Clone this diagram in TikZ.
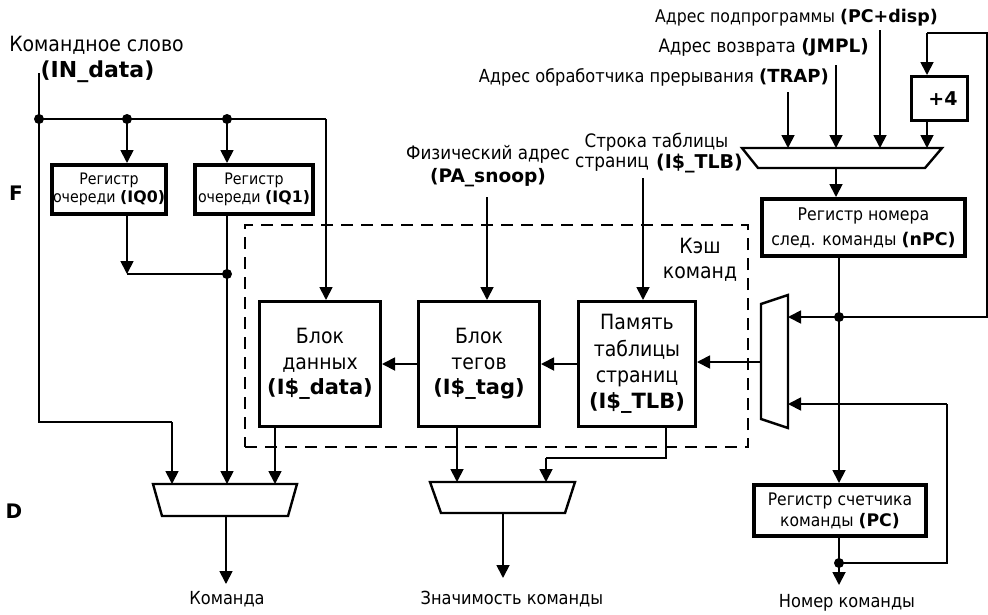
\documentclass[tikz,border=0pt]{standalone}
\usepackage{fontspec}
\setmainfont{DejaVu Sans Condensed}[BoldFont={DejaVu Sans Bold}]
\usetikzlibrary{arrows.meta,calc}

\newcommand{\fs}[2]{\fontsize{#1}{#2}\selectfont}

\begin{document}
\begin{tikzpicture}[x=1pt,y=-1pt,
  wire/.style={line width=1.8pt},
  arr/.style={wire,-{Triangle[length=13pt,width=13pt]}},
  reg/.style={draw,line width=3.6pt,inner sep=0pt,align=center},
  blk/.style={draw,line width=2.6pt,inner sep=0pt,align=center},
  muxshape/.style={draw,line width=2.4pt,fill=white,line join=miter},
  jdot/.style={circle,fill,inner sep=0pt,minimum size=10pt},
  cachebox/.style={draw,dashed,line width=2pt,dash pattern=on 12pt off 8pt,inner sep=0pt},
  lbl/.style={inner sep=0pt,align=center}]
\useasboundingbox (0,0) rectangle (988,614);

% ---------- input word and stage letters ----------
\node[lbl,font=\fs{21}{24}] (inword) at (96.5,45) {Командное слово};
\node[lbl,font=\fs{22}{24}\bfseries] (indata) at (97.5,72) {(IN\_data)};
\node[lbl,font=\fs{20}{24}\bfseries] (stF) at (16,193) {F};
\node[lbl,font=\fs{20}{24}\bfseries] (stD) at (14,511) {D};

% ---------- queue registers ----------
\node[reg,minimum width=114.4pt,minimum height=49.4pt,font=\fs{15.8}{18.5}] (iq0) at (109,189.5) {Регистр\\очереди \textbf{(IQ0)}};
\node[reg,minimum width=118.4pt,minimum height=49.4pt,font=\fs{15.8}{18.5}] (iq1) at (254,189.5) {Регистр\\очереди \textbf{(IQ1)}};

% ---------- instruction cache ----------
\node[cachebox,minimum width=503pt,minimum height=222pt] (cache) at (496.5,336) {};
\node[lbl,font=\fs{21}{25}] (cachelbl) at (700,260) {Кэш\\команд};
\node[blk,minimum width=121.4pt,minimum height=125.4pt,font=\fs{21}{25.5}] (data) at (320,364) {Блок\\данных\\\textbf{(I\$\_data)}};
\node[blk,minimum width=121.4pt,minimum height=125.4pt,font=\fs{21}{25.5}] (tag) at (479,364) {Блок\\тегов\\\textbf{(I\$\_tag)}};
\node[blk,minimum width=117.4pt,minimum height=125.4pt,font=\fs{21}{26.3}] (tlb) at (637,364) {Память\\таблицы\\страниц\\\textbf{(I\$\_TLB)}};

% ---------- program counter path ----------
\node[blk,minimum width=56.4pt,minimum height=44.4pt,font=\fs{19}{25}\bfseries] (plus4) at (939.5,98.5) {\hspace*{7pt}+4};
\node[reg,minimum width=203.4pt,minimum height=57.4pt,font=\fs{17.5}{25}] (npc) at (863.5,227.5) {Регистр номера\\след. команды \textbf{(nPC)}};
\node[reg,minimum width=172.4pt,minimum height=51.4pt,font=\fs{17.3}{21}] (pc) at (840,510.5) {Регистр счетчика\\команды \textbf{(PC)}};

% ---------- top labels ----------
\node[lbl,anchor=east,font=\fs{17.5}{22}] (lpcd) at (938,18) {Адрес подпрограммы \textbf{(PC+disp)}};
\node[lbl,anchor=east,font=\fs{18.5}{22}] (ljmpl) at (869,47) {Адрес возврата \textbf{(JMPL)}};
\node[lbl,anchor=east,font=\fs{18}{22}] (ltrap) at (829,77) {Адрес обработчика прерывания \textbf{(TRAP)}};
\node[lbl,font=\fs{18.6}{23}] (lpa) at (488,166.5) {Физический адрес\\\textbf{(PA\_snoop)}};
\node[lbl,font=\fs{18.5}{22}] (lrow) at (656.5,142) {Строка таблицы};
\node[lbl,anchor=west,font=\fs{18.8}{22}] (lpages) at (575,164) {страниц};
\node[lbl,anchor=east,font=\fs{19}{22}\bfseries] (ltlb) at (743,164) {(I\$\_TLB)};

% ---------- bottom labels ----------
\node[lbl,font=\fs{18}{22}] (outcmd) at (227,599) {Команда};
\node[lbl,font=\fs{18}{22}] (outval) at (512,599) {Значимость команды};
\node[lbl,font=\fs{18}{22}] (outnum) at (847,603) {Номер команды};

% ---------- multiplexers ----------
\draw[muxshape] (153,484) -- (297,484) -- (288,516) -- (162,516) -- cycle;
\draw[muxshape] (430,482) -- (575,482) -- (565,513) -- (441,513) -- cycle;
\draw[muxshape] (742,148) -- (942,148) -- (925,168) -- (758,168) -- cycle;
\draw[muxshape] (761,304) -- (788,295) -- (788,428) -- (761,419) -- cycle;

% connection points on the multiplexers
\coordinate (m1a) at (172,484);
\coordinate (m1b) at (227,484);
\coordinate (m1c) at (275,484);
\coordinate (m1o) at (226,516);
\coordinate (m3a) at (457,482);
\coordinate (m3b) at (546,482);
\coordinate (m3o) at (503,513);
\coordinate (nma) at (788,148);
\coordinate (nmb) at (836,148);
\coordinate (nmc) at (880,148);
\coordinate (nmd) at (927,148);
\coordinate (nmo) at (836,168);
\coordinate (m2a) at (788,317);
\coordinate (m2b) at (788,404);
\coordinate (m2o) at (761,362);

% ---------- input word bus ----------
\coordinate (intop) at (39,73);
\node[jdot] (j0) at (39,119) {};
\node[jdot] (j1) at (127,119) {};
\node[jdot] (j2) at (227,119) {};
\coordinate (busend) at (326,119);
\coordinate (bypass) at (39,422);
\coordinate (bypass2) at (172,422);
\draw[wire] (intop) -- (j0.center) -- (bypass) -- (bypass2);
\draw[arr] (bypass2) -- (m1a);
\draw[wire] (j0.center) -- (busend);
\draw[arr] (busend) -- (busend |- data.north);
\draw[arr] (j1.center) -- (j1 |- iq0.north);
\draw[arr] (j2.center) -- (j2 |- iq1.north);

% queue outputs
\coordinate (q0end) at (127,274);
\node[jdot] (j3) at (227,274) {};
\draw[arr] (q0end |- iq0.south) -- (q0end);
\draw[wire] (q0end) -- (j3.center);
\draw[arr] (j3 |- iq1.south) -- (m1b);
\draw[arr] (m1c |- data.south) -- (m1c);
\coordinate (cmdend) at (226,584);
\draw[arr] (m1o) -- (cmdend);

% cache internals
\coordinate (patop) at (487,197);
\coordinate (tlbtop) at (643,178);
\draw[arr] (patop) -- (patop |- tag.north);
\draw[arr] (tlbtop) -- (tlbtop |- tlb.north);
\draw[arr] (tag.west) -- (data.east);
\draw[arr] (tlb.west) -- (tag.east);
\draw[arr] (m2o) -- (m2o -| tlb.east);
\draw[arr] (m3a |- tag.south) -- (m3a);
\coordinate (tlbout) at (666,458);
\draw[wire] (tlbout |- tlb.south) -- (tlbout) -- (m3b |- tlbout);
\draw[arr] (m3b |- tlbout) -- (m3b);
\coordinate (valend) at (503,578);
\draw[arr] (m3o) -- (valend);

% ---------- next-PC selection ----------
\coordinate (trtop) at (788,92);
\coordinate (jmtop) at (836,65);
\coordinate (pdtop) at (880,30);
\draw[arr] (trtop) -- (nma);
\draw[arr] (jmtop) -- (nmb);
\draw[arr] (pdtop) -- (nmc);
\draw[arr] (nmd |- plus4.south) -- (nmd);
\draw[arr] (nmo) -- (nmo |- npc.north);

\node[jdot] (j4) at (839,317) {};
\coordinate (fbr) at (987,317);
\coordinate (fbt) at (987,33);
\coordinate (fbl) at (927,33);
\draw[arr] (j4 |- npc.south) -- (j4 |- pc.north);
\draw[arr] (j4.center) -- (m2a);
\draw[wire] (j4.center) -- (fbr) -- (fbt) -- (fbl);
\draw[arr] (fbl) -- (fbl |- plus4.north);

\node[jdot] (j5) at (839,563) {};
\coordinate (pcr) at (947,563);
\coordinate (pcu) at (947,404);
\coordinate (numend) at (839,585);
\draw[arr] (j5 |- pc.south) -- (numend);
\draw[wire] (j5.center) -- (pcr) -- (pcu);
\draw[arr] (pcu) -- (m2b);
\end{tikzpicture}
\end{document}
